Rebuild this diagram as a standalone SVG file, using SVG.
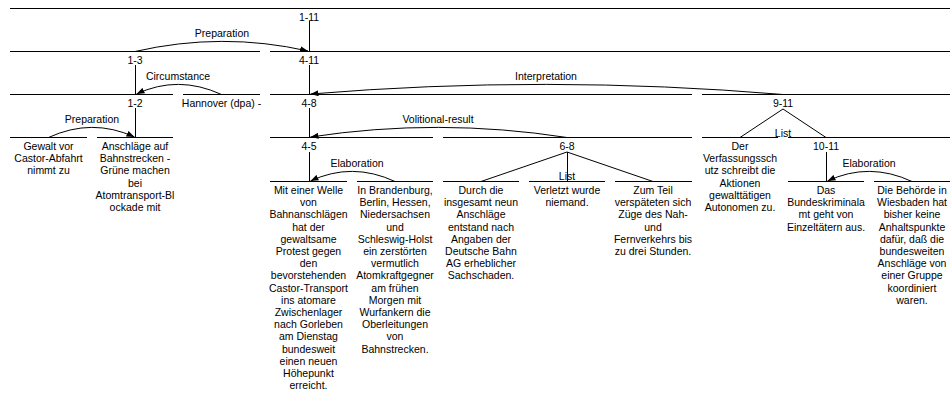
<svg xmlns="http://www.w3.org/2000/svg" width="950" height="397" viewBox="0 0 950 397">
  <style>
    .span { stroke: #000; stroke-width: 1; fill: none; }
    .link { stroke: #000; stroke-width: 1; fill: none; }
    .arc { stroke: #000; stroke-width: 1; fill: none; marker-end: url(#head); }
    text { font-family: "Liberation Sans", Arial, sans-serif; font-size: 10.5px; fill: #000; text-anchor: middle; }
  </style>
  <defs>
    <marker id="head" markerUnits="userSpaceOnUse" markerWidth="8" markerHeight="6" refX="8" refY="3" orient="auto">
      <path d="M0,0 L8,3 L0,6 z" fill="#000"/>
    </marker>
  </defs>
  <rect width="950" height="397" fill="#fff"/>

  <!-- internal spans -->
  <g id="n1-11"><line class="span" x1="10" y1="8.5" x2="950" y2="8.5"/><text x="309" y="20.5">1-11</text></g>
  <g id="n1-3"><line class="span" x1="10" y1="51.5" x2="260" y2="51.5"/><text x="135" y="64">1-3</text></g>
  <g id="n4-11"><line class="span" x1="270" y1="51.5" x2="950" y2="51.5"/><text x="309" y="64">4-11</text></g>
  <g id="n1-2"><line class="span" x1="10" y1="94.5" x2="173" y2="94.5"/><text x="135" y="107">1-2</text></g>
  <g id="n4-8"><line class="span" x1="270" y1="94.5" x2="692" y2="94.5"/><text x="309" y="107">4-8</text></g>
  <g id="n9-11"><line class="span" x1="702" y1="94.5" x2="950" y2="94.5"/><text x="783" y="107">9-11</text></g>
  <g id="n4-5"><line class="span" x1="270" y1="137.5" x2="433" y2="137.5"/><text x="309" y="150">4-5</text></g>
  <g id="n6-8"><line class="span" x1="443" y1="137.5" x2="692" y2="137.5"/><text x="567" y="150">6-8</text></g>
  <g id="n10-11"><line class="span" x1="788" y1="137.5" x2="950" y2="137.5"/><text x="826" y="150">10-11</text></g>

  <!-- leaf segments -->
  <g id="seg3">
    <line class="span" x1="183" y1="94.5" x2="260" y2="94.5"/>
    <text x="221.5" y="107">Hannover (dpa) -</text>
  </g>
  <g id="seg1">
    <line class="span" x1="10" y1="137.5" x2="87" y2="137.5"/>
    <text x="48.5" y="150">Gewalt vor<tspan x="48.5" dy="12.2">Castor-Abfahrt</tspan><tspan x="48.5" dy="12.2">nimmt zu</tspan></text>
  </g>
  <g id="seg2">
    <line class="span" x1="97" y1="137.5" x2="173" y2="137.5"/>
    <text x="135" y="150">Anschläge auf<tspan x="135" dy="12.2">Bahnstrecken -</tspan><tspan x="135" dy="12.2">Grüne machen</tspan><tspan x="135" dy="12.2">bei</tspan><tspan x="135" dy="12.2">Atomtransport-Bl</tspan><tspan x="135" dy="12.2">ockade mit</tspan></text>
  </g>
  <g id="seg9">
    <line class="span" x1="702" y1="137.5" x2="778" y2="137.5"/>
    <text x="740" y="150">Der<tspan x="740" dy="12.2">Verfassungssch</tspan><tspan x="740" dy="12.2">utz schreibt die</tspan><tspan x="740" dy="12.2">Aktionen</tspan><tspan x="740" dy="12.2">gewalttätigen</tspan><tspan x="740" dy="12.2">Autonomen zu.</tspan></text>
  </g>
  <g id="seg4">
    <line class="span" x1="270" y1="181.5" x2="347" y2="181.5"/>
    <text x="308.5" y="194">Mit einer Welle<tspan x="308.5" dy="12.2">von</tspan><tspan x="308.5" dy="12.2">Bahnanschlägen</tspan><tspan x="308.5" dy="12.2">hat der</tspan><tspan x="308.5" dy="12.2">gewaltsame</tspan><tspan x="308.5" dy="12.2">Protest gegen</tspan><tspan x="308.5" dy="12.2">den</tspan><tspan x="308.5" dy="12.2">bevorstehenden</tspan><tspan x="308.5" dy="12.2">Castor-Transport</tspan><tspan x="308.5" dy="12.2">ins atomare</tspan><tspan x="308.5" dy="12.2">Zwischenlager</tspan><tspan x="308.5" dy="12.2">nach Gorleben</tspan><tspan x="308.5" dy="12.2">am Dienstag</tspan><tspan x="308.5" dy="12.2">bundesweit</tspan><tspan x="308.5" dy="12.2">einen neuen</tspan><tspan x="308.5" dy="12.2">Höhepunkt</tspan><tspan x="308.5" dy="12.2">erreicht.</tspan></text>
  </g>
  <g id="seg5">
    <line class="span" x1="357" y1="181.5" x2="433" y2="181.5"/>
    <text x="395" y="194">In Brandenburg,<tspan x="395" dy="12.2">Berlin, Hessen,</tspan><tspan x="395" dy="12.2">Niedersachsen</tspan><tspan x="395" dy="12.2">und</tspan><tspan x="395" dy="12.2">Schleswig-Holst</tspan><tspan x="395" dy="12.2">ein zerstörten</tspan><tspan x="395" dy="12.2">vermutlich</tspan><tspan x="395" dy="12.2">Atomkraftgegner</tspan><tspan x="395" dy="12.2">am frühen</tspan><tspan x="395" dy="12.2">Morgen mit</tspan><tspan x="395" dy="12.2">Wurfankern die</tspan><tspan x="395" dy="12.2">Oberleitungen</tspan><tspan x="395" dy="12.2">von</tspan><tspan x="395" dy="12.2">Bahnstrecken.</tspan></text>
  </g>
  <g id="seg6">
    <line class="span" x1="443" y1="181.5" x2="519" y2="181.5"/>
    <text x="481" y="194">Durch die<tspan x="481" dy="12.2">insgesamt neun</tspan><tspan x="481" dy="12.2">Anschläge</tspan><tspan x="481" dy="12.2">entstand nach</tspan><tspan x="481" dy="12.2">Angaben der</tspan><tspan x="481" dy="12.2">Deutsche Bahn</tspan><tspan x="481" dy="12.2">AG erheblicher</tspan><tspan x="481" dy="12.2">Sachschaden.</tspan></text>
  </g>
  <g id="seg7">
    <line class="span" x1="529" y1="181.5" x2="605" y2="181.5"/>
    <text x="567" y="194">Verletzt wurde<tspan x="567" dy="12.2">niemand.</tspan></text>
  </g>
  <g id="seg8">
    <line class="span" x1="615" y1="181.5" x2="692" y2="181.5"/>
    <text x="653" y="194">Zum Teil<tspan x="653" dy="12.2">verspäteten sich</tspan><tspan x="653" dy="12.2">Züge des Nah-</tspan><tspan x="653" dy="12.2">und</tspan><tspan x="653" dy="12.2">Fernverkehrs bis</tspan><tspan x="653" dy="12.2">zu drei Stunden.</tspan></text>
  </g>
  <g id="seg10">
    <line class="span" x1="788" y1="181.5" x2="864" y2="181.5"/>
    <text x="826" y="194">Das<tspan x="826" dy="12.2">Bundeskriminala</tspan><tspan x="826" dy="12.2">mt geht von</tspan><tspan x="826" dy="12.2">Einzeltätern aus.</tspan></text>
  </g>
  <g id="seg11">
    <line class="span" x1="874" y1="181.5" x2="950" y2="181.5"/>
    <text x="912" y="194">Die Behörde in<tspan x="912" dy="12.2">Wiesbaden hat</tspan><tspan x="912" dy="12.2">bisher keine</tspan><tspan x="912" dy="12.2">Anhaltspunkte</tspan><tspan x="912" dy="12.2">dafür, daß die</tspan><tspan x="912" dy="12.2">bundesweiten</tspan><tspan x="912" dy="12.2">Anschläge von</tspan><tspan x="912" dy="12.2">einer Gruppe</tspan><tspan x="912" dy="12.2">koordiniert</tspan><tspan x="912" dy="12.2">waren.</tspan></text>
  </g>

  <!-- connectors: nucleus stems, multinuclear fans, relation arcs -->
  <g id="connectors">
    <line class="link" x1="309.5" y1="21" x2="309.5" y2="51"/>
    <line class="link" x1="309.5" y1="65" x2="309.5" y2="94"/>
    <line class="link" x1="309.5" y1="108" x2="309.5" y2="137"/>
    <line class="link" x1="309.5" y1="152" x2="309.5" y2="181"/>
    <line class="link" x1="135.5" y1="65" x2="135.5" y2="94"/>
    <line class="link" x1="135.5" y1="108" x2="135.5" y2="137"/>
    <line class="link" x1="826.5" y1="152" x2="826.5" y2="181"/>

    <polyline class="link" points="740,137.5 783,109 826,137.5"/>
    <polyline class="link" points="481,181.5 567,152 653,181.5"/>
    <line class="link" x1="567.5" y1="152" x2="567.5" y2="181"/>
    <text x="783" y="137">List</text>
    <text x="567" y="180">List</text>

    <path class="arc" d="M135,51.5 Q222,31.5 308,51"/>
    <text x="222" y="37">Preparation</text>

    <path class="arc" d="M221.5,94.5 Q178,74.5 136.5,94"/>
    <text x="178" y="80">Circumstance</text>

    <path class="arc" d="M783,94.5 Q546,74.5 310.5,94"/>
    <text x="546" y="80">Interpretation</text>

    <path class="arc" d="M48.5,137.5 Q92,117.5 134.5,137"/>
    <text x="92" y="123">Preparation</text>

    <path class="arc" d="M567,137.5 Q438,117.5 310.5,137"/>
    <text x="438" y="123">Volitional-result</text>

    <path class="arc" d="M395,181.5 Q352,161.5 310.5,181"/>
    <text x="357" y="167">Elaboration</text>

    <path class="arc" d="M912,181.5 Q869,161.5 827.5,181"/>
    <text x="869" y="167">Elaboration</text>
  </g>
</svg>
